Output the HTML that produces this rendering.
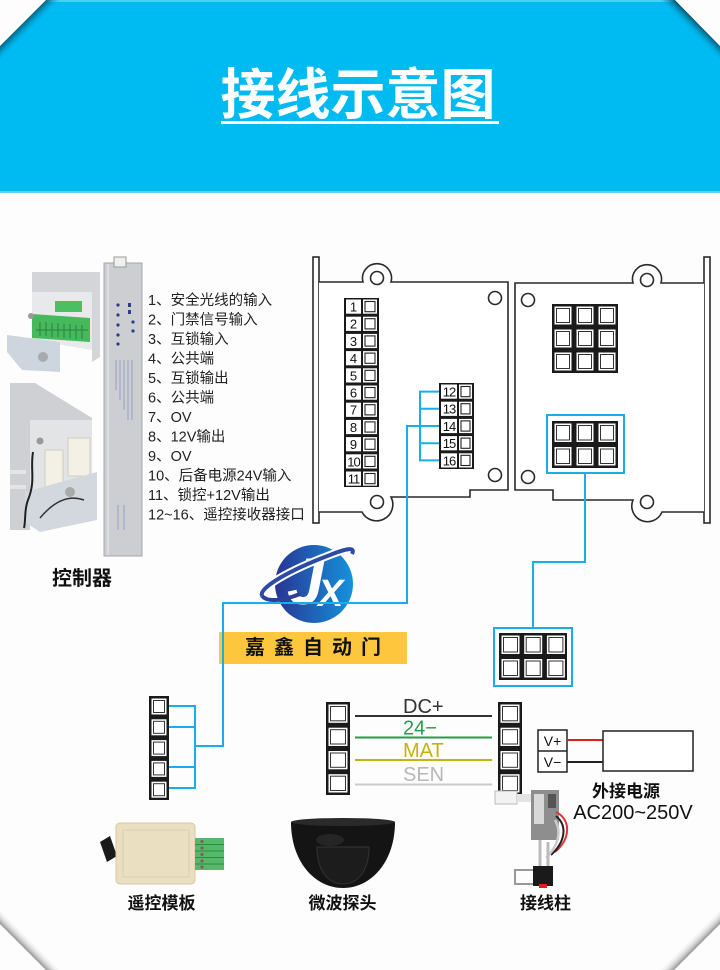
<!DOCTYPE html>
<html><head><meta charset="utf-8">
<style>
html,body{margin:0;padding:0;background:#fdfdfd;}
svg{display:block;}
text{font-family:"Liberation Sans","Noto Sans CJK SC",sans-serif;}
</style></head>
<body>
<svg width="720" height="970" viewBox="0 0 720 970" xmlns="http://www.w3.org/2000/svg">
<defs>
<linearGradient id="lg" x1="0" y1="0" x2="1" y2="0">
<stop offset="0" stop-color="#283594"/><stop offset="1" stop-color="#1592db"/>
</linearGradient>
<linearGradient id="stl" gradientUnits="userSpaceOnUse" x1="23" y1="23" x2="31" y2="31">
<stop offset="0" stop-color="#05506b" stop-opacity=".9"/><stop offset="1" stop-color="#00baf2" stop-opacity="0"/>
</linearGradient>
<linearGradient id="str" gradientUnits="userSpaceOnUse" x1="697" y1="23" x2="689" y2="31">
<stop offset="0" stop-color="#05506b" stop-opacity=".9"/><stop offset="1" stop-color="#00baf2" stop-opacity="0"/>
</linearGradient>
<linearGradient id="sbl" gradientUnits="userSpaceOnUse" x1="23" y1="947" x2="31" y2="939">
<stop offset="0" stop-color="#777" stop-opacity=".8"/><stop offset="1" stop-color="#fdfdfd" stop-opacity="0"/>
</linearGradient>
<linearGradient id="sbr" gradientUnits="userSpaceOnUse" x1="697" y1="947" x2="689" y2="939">
<stop offset="0" stop-color="#777" stop-opacity=".8"/><stop offset="1" stop-color="#fdfdfd" stop-opacity="0"/>
</linearGradient>
</defs>
<rect width="720" height="970" fill="#fdfdfd"/>

<!-- Header -->
<polygon points="46,0 675,0 720,46 720,192 0,192 0,46" fill="#00baf2"/>
<rect x="46" y="0" width="629" height="2" fill="#4fcdf5"/>
<polygon points="46,0 60,0 0,60 0,46" fill="url(#stl)"/>
<polygon points="675,0 661,0 720,60 720,46" fill="url(#str)"/>
<polygon points="0,0 46,0 0,46" fill="#fdfdfd"/>
<polygon points="720,0 675,0 720,46" fill="#fdfdfd"/>
<rect x="0" y="191" width="720" height="2" fill="#5fd0f5"/>
<text x="358" y="114" font-size="55" font-weight="bold" fill="#ffffff" text-anchor="middle">接线示意图</text>
<rect x="221" y="121" width="278" height="3" fill="#ffffff"/>

<!-- bottom corner shadows -->
<polygon points="0,924 46,970 62,970 0,908" fill="url(#sbl)"/>
<polygon points="720,924 674,970 658,970 720,908" fill="url(#sbr)"/>
<polygon points="0,925 0,970 45,970" fill="#fdfdfd"/>
<polygon points="720,925 720,970 675,970" fill="#fdfdfd"/>

<!-- Controller photos -->
<g>
<polygon points="32,272 100,272 100,357 92,362 92,292 32,292" fill="#d3d5d8"/>
<polygon points="32,292 92,292 92,350 32,340" fill="#e8e9eb"/>
<rect x="55" y="301" width="27" height="11" fill="#4cbf63"/>
<polygon points="32,314 90,318 90,342 32,338" fill="#46b95d"/>
<path d="M36,330 H88 M40,322 V336 M46,322 V336 M52,323 V337 M58,323 V337 M64,324 V338 M70,324 V338 M76,325 V339 M82,325 V339" stroke="#2f8a43" stroke-width="1.2"/>
<polygon points="7,335 60,342 60,372 22,370 7,352" fill="#cdd5de"/>
<circle cx="43" cy="357" r="5" fill="#a7abb1"/>
<circle cx="31" cy="316" r="3" fill="#999"/>

<polygon points="10,383 35,383 92,418 92,440 30,440 30,530 10,530" fill="#cfd0d3"/>
<polygon points="30,420 92,420 92,500 30,510" fill="#e3e4e6"/>
<rect x="45" y="450" width="18" height="40" fill="#f3f1e6" stroke="#cfcdc0"/>
<rect x="68" y="438" width="22" height="38" fill="#f3f1e6" stroke="#cfcdc0"/>
<polygon points="25,492 97,472 97,520 40,532 25,522" fill="#d3d8de"/>
<path d="M33,452 C30,470 36,480 28,500 C24,510 26,520 24,528" stroke="#222" stroke-width="2" fill="none"/>
<path d="M40,518 C55,500 70,495 84,500" stroke="#333" stroke-width="1.5" fill="none"/>
<circle cx="70" cy="492" r="5" fill="#aaa"/>
<circle cx="40" cy="441" r="3.5" fill="#999"/>
<rect x="10" y="470" width="16" height="4" fill="#e4e4e6"/>
<rect x="10" y="485" width="16" height="4" fill="#e4e4e6"/>

<rect x="104" y="263" width="38" height="293" fill="#cdced2" stroke="#a6a7ab"/>
<line x1="108" y1="264" x2="108" y2="555" stroke="#e4e4e6" stroke-width="1.5"/>
<rect x="114" y="257" width="12" height="10" fill="#f0f0f0" stroke="#999"/>
<g fill="#2a3d8c">
<circle cx="118" cy="305" r="1.6"/><circle cx="118" cy="315" r="1.6"/><circle cx="118" cy="325" r="1.6"/><circle cx="118" cy="335" r="1.6"/><circle cx="118" cy="344" r="1.6"/>
<rect x="128" y="303" width="3" height="4"/><rect x="128" y="310" width="3" height="4"/><circle cx="133" cy="322" r="1.6"/><circle cx="133" cy="331" r="1.6"/>
</g>
<g stroke="#8b93c0" stroke-width=".8">
<line x1="116" y1="360" x2="116" y2="390"/><line x1="120" y1="360" x2="120" y2="400"/><line x1="124" y1="360" x2="124" y2="410"/><line x1="128" y1="360" x2="128" y2="420"/><line x1="132" y1="360" x2="132" y2="420"/>
<line x1="118" y1="505" x2="118" y2="530"/><line x1="124" y1="505" x2="124" y2="530"/>
</g>
</g>

<!-- Controller list -->
<g font-size="14.5" fill="#222">
<text x="148" y="305">1、安全光线的输入</text>
<text x="148" y="324.5">2、门禁信号输入</text>
<text x="148" y="344">3、互锁输入</text>
<text x="148" y="363.5">4、公共端</text>
<text x="148" y="383">5、互锁输出</text>
<text x="148" y="402.5">6、公共端</text>
<text x="148" y="422">7、OV</text>
<text x="148" y="441.5">8、12V输出</text>
<text x="148" y="461">9、OV</text>
<text x="148" y="480.5">10、后备电源24V输入</text>
<text x="148" y="500">11、锁控+12V输出</text>
<text x="148" y="519.5">12~16、遥控接收器接口</text>
</g>
<text x="52" y="585" font-size="20" font-weight="bold" fill="#111">控制器</text>

<!-- Plates -->
<g stroke="#2a2a2a" stroke-width="1.6" fill="#fff">
<rect x="313" y="257" width="6" height="266"/>
<rect x="704" y="257" width="6" height="266"/>
<path d="M319,282 H363 A14.5,14.5 0 1 1 391,282 H508 V490 H470 V497 H391 A15,15 0 0 1 362,512 H319"/>
<path d="M704,283 H661 A14.5,14.5 0 1 0 633,283 H515 V490 H553 V500 H633 A15,15 0 0 0 662,512 H704"/>
<circle cx="377" cy="278" r="6.5"/><circle cx="377" cy="502" r="6.5"/>
<circle cx="647" cy="280" r="6.5"/><circle cx="647" cy="502" r="6.5"/>
<circle cx="495" cy="298" r="6.5"/><circle cx="495" cy="475" r="6.5"/>
<circle cx="528" cy="300" r="6.5"/><circle cx="528" cy="477" r="6.5"/>
</g>

<!-- Strip 1-11 -->
<rect x="344" y="298" width="35" height="189" fill="#1a1a1a"/>
<g fill="#fff">
<rect x="346" y="299.5" width="15" height="14.2"/><rect x="346" y="316.7" width="15" height="14.2"/><rect x="346" y="333.9" width="15" height="14.2"/><rect x="346" y="351.1" width="15" height="14.2"/><rect x="346" y="368.3" width="15" height="14.2"/><rect x="346" y="385.5" width="15" height="14.2"/><rect x="346" y="402.7" width="15" height="14.2"/><rect x="346" y="419.9" width="15" height="14.2"/><rect x="346" y="437.1" width="15" height="14.2"/><rect x="346" y="454.3" width="15" height="14.2"/><rect x="346" y="471.5" width="15" height="14.2"/>
<rect x="363" y="299.5" width="14" height="14.2"/><rect x="363" y="316.7" width="14" height="14.2"/><rect x="363" y="333.9" width="14" height="14.2"/><rect x="363" y="351.1" width="14" height="14.2"/><rect x="363" y="368.3" width="14" height="14.2"/><rect x="363" y="385.5" width="14" height="14.2"/><rect x="363" y="402.7" width="14" height="14.2"/><rect x="363" y="419.9" width="14" height="14.2"/><rect x="363" y="437.1" width="14" height="14.2"/><rect x="363" y="454.3" width="14" height="14.2"/><rect x="363" y="471.5" width="14" height="14.2"/>
</g>
<g fill="none" stroke="#222" stroke-width="1.1">
<rect x="365" y="301.5" width="10" height="10.2"/><rect x="365" y="318.7" width="10" height="10.2"/><rect x="365" y="335.9" width="10" height="10.2"/><rect x="365" y="353.1" width="10" height="10.2"/><rect x="365" y="370.3" width="10" height="10.2"/><rect x="365" y="387.5" width="10" height="10.2"/><rect x="365" y="404.7" width="10" height="10.2"/><rect x="365" y="421.9" width="10" height="10.2"/><rect x="365" y="439.1" width="10" height="10.2"/><rect x="365" y="456.3" width="10" height="10.2"/><rect x="365" y="473.5" width="10" height="10.2"/>
</g>
<g font-size="13" fill="#111" text-anchor="middle">
<text x="353.5" y="311.5">1</text><text x="353.5" y="328.7">2</text><text x="353.5" y="345.9">3</text><text x="353.5" y="363.1">4</text><text x="353.5" y="380.3">5</text><text x="353.5" y="397.5">6</text><text x="353.5" y="414.7">7</text><text x="353.5" y="431.9">8</text><text x="353.5" y="449.1">9</text><text x="353.5" y="466.3" letter-spacing="-1">10</text><text x="353.5" y="483.5" letter-spacing="-1">11</text>
</g>

<!-- Strip 12-16 -->
<rect x="439" y="383" width="35" height="86" fill="#1a1a1a"/>
<g fill="#fff">
<rect x="441" y="384.5" width="16" height="14.2"/><rect x="441" y="401.7" width="16" height="14.2"/><rect x="441" y="418.9" width="16" height="14.2"/><rect x="441" y="436.1" width="16" height="14.2"/><rect x="441" y="453.3" width="16" height="14.2"/>
<rect x="459" y="384.5" width="13" height="14.2"/><rect x="459" y="401.7" width="13" height="14.2"/><rect x="459" y="418.9" width="13" height="14.2"/><rect x="459" y="436.1" width="13" height="14.2"/><rect x="459" y="453.3" width="13" height="14.2"/>
</g>
<g fill="none" stroke="#222" stroke-width="1.1">
<rect x="461" y="386.5" width="9" height="10.2"/><rect x="461" y="403.7" width="9" height="10.2"/><rect x="461" y="420.9" width="9" height="10.2"/><rect x="461" y="438.1" width="9" height="10.2"/><rect x="461" y="455.3" width="9" height="10.2"/>
</g>
<g font-size="13" fill="#111" text-anchor="middle" letter-spacing="-1">
<text x="449" y="396.5">12</text><text x="449" y="413.7">13</text><text x="449" y="430.9">14</text><text x="449" y="448.1">15</text><text x="449" y="465.3">16</text>
</g>

<!-- 3x3 grid -->
<rect x="552" y="304" width="66" height="69" fill="#1a1a1a"/>
<g fill="#fff">
<rect x="554.5" y="306.5" width="17" height="18"/><rect x="576.5" y="306.5" width="17" height="18"/><rect x="598.5" y="306.5" width="17" height="18"/>
<rect x="554.5" y="329.5" width="17" height="18"/><rect x="576.5" y="329.5" width="17" height="18"/><rect x="598.5" y="329.5" width="17" height="18"/>
<rect x="554.5" y="352.5" width="17" height="18"/><rect x="576.5" y="352.5" width="17" height="18"/><rect x="598.5" y="352.5" width="17" height="18"/>
</g>
<g fill="none" stroke="#333" stroke-width="1">
<rect x="556.5" y="308.5" width="13" height="14"/><rect x="578.5" y="308.5" width="13" height="14"/><rect x="600.5" y="308.5" width="13" height="14"/>
<rect x="556.5" y="331.5" width="13" height="14"/><rect x="578.5" y="331.5" width="13" height="14"/><rect x="600.5" y="331.5" width="13" height="14"/>
<rect x="556.5" y="354.5" width="13" height="14"/><rect x="578.5" y="354.5" width="13" height="14"/><rect x="600.5" y="354.5" width="13" height="14"/>
</g>

<!-- 2x3 grid right plate -->
<rect x="547" y="415" width="77" height="58" fill="none" stroke="#19aeea" stroke-width="2"/>
<rect x="552" y="421" width="66" height="47" fill="#1a1a1a"/>
<g fill="#fff">
<rect x="554.5" y="423.5" width="17" height="18.5"/><rect x="576.5" y="423.5" width="17" height="18.5"/><rect x="598.5" y="423.5" width="17" height="18.5"/>
<rect x="554.5" y="447" width="17" height="18.5"/><rect x="576.5" y="447" width="17" height="18.5"/><rect x="598.5" y="447" width="17" height="18.5"/>
</g>
<g fill="none" stroke="#333" stroke-width="1">
<rect x="556.5" y="425.5" width="13" height="14.5"/><rect x="578.5" y="425.5" width="13" height="14.5"/><rect x="600.5" y="425.5" width="13" height="14.5"/>
<rect x="556.5" y="449" width="13" height="14.5"/><rect x="578.5" y="449" width="13" height="14.5"/><rect x="600.5" y="449" width="13" height="14.5"/>
</g>

<!-- Logo -->
<g>
<circle cx="314" cy="584" r="39" fill="url(#lg)"/>
<text x="287" y="604" font-size="66" font-weight="bold" font-style="italic" fill="#fff">J</text>
<text x="318" y="606" font-size="38" font-weight="bold" font-style="italic" fill="#fff">X</text>
<path d="M262,596 C258,588 290,570 330,555 C345,549 356,546 352,554" stroke="#fff" stroke-width="8" fill="none"/>
<path d="M262,596 C258,588 290,570 330,555 C345,549 356,546 352,554" stroke="#2d4ba6" stroke-width="4" fill="none"/>
<path d="M262,596 C268,603 285,600 300,594" stroke="#2d3f98" stroke-width="4" fill="none"/>
</g>

<!-- Banner -->
<rect x="219" y="632" width="188" height="32" fill="#fcc73d"/>
<text x="245" y="654" font-size="20" font-weight="bold" fill="#111" letter-spacing="9">嘉鑫自动门</text>

<!-- Blue lines -->
<g stroke="#19aeea" stroke-width="2" fill="none">
<path d="M439,391.6 H420 V460.4 H439 M420,408.8 H439 M420,443.2 H439"/>
<path d="M439,426 H407 V603 H223 V746 H195"/>
<path d="M169,706 H195 V788 H169 M169,727 H195 M169,767 H195"/>
<path d="M585,473 V562 H533 V628"/>
<rect x="494" y="628" width="78" height="58"/>
</g>

<!-- 6 box -->
<rect x="499" y="633" width="68" height="47" fill="#1a1a1a"/>
<g fill="#fff">
<rect x="501.5" y="635.5" width="18" height="18.5"/><rect x="524.2" y="635.5" width="18" height="18.5"/><rect x="546.9" y="635.5" width="18" height="18.5"/>
<rect x="501.5" y="659" width="18" height="18.5"/><rect x="524.2" y="659" width="18" height="18.5"/><rect x="546.9" y="659" width="18" height="18.5"/>
</g>
<g fill="none" stroke="#333" stroke-width="1">
<rect x="503.5" y="637.5" width="14" height="14.5"/><rect x="526.2" y="637.5" width="14" height="14.5"/><rect x="548.9" y="637.5" width="14" height="14.5"/>
<rect x="503.5" y="661" width="14" height="14.5"/><rect x="526.2" y="661" width="14" height="14.5"/><rect x="548.9" y="661" width="14" height="14.5"/>
</g>

<!-- Left 5-strip -->
<rect x="149" y="696" width="20" height="104" fill="#1a1a1a"/>
<g fill="#fff">
<rect x="151.5" y="698.5" width="15" height="16"/><rect x="151.5" y="719.3" width="15" height="16"/><rect x="151.5" y="740.1" width="15" height="16"/><rect x="151.5" y="760.9" width="15" height="16"/><rect x="151.5" y="781.7" width="15" height="16"/>
</g>
<g fill="none" stroke="#333" stroke-width="1">
<rect x="153.5" y="700.5" width="11" height="12"/><rect x="153.5" y="721.3" width="11" height="12"/><rect x="153.5" y="742.1" width="11" height="12"/><rect x="153.5" y="762.9" width="11" height="12"/><rect x="153.5" y="783.7" width="11" height="12"/>
</g>

<!-- 4-strips -->
<rect x="326" y="702" width="24" height="93" fill="#1a1a1a"/>
<rect x="498" y="702" width="24" height="93" fill="#1a1a1a"/>
<g fill="#fff">
<rect x="328.5" y="704.5" width="19" height="18.3"/><rect x="328.5" y="727.7" width="19" height="18.3"/><rect x="328.5" y="751" width="19" height="18.3"/><rect x="328.5" y="774.2" width="19" height="18.3"/>
<rect x="500.5" y="704.5" width="19" height="18.3"/><rect x="500.5" y="727.7" width="19" height="18.3"/><rect x="500.5" y="751" width="19" height="18.3"/><rect x="500.5" y="774.2" width="19" height="18.3"/>
</g>
<g fill="none" stroke="#333" stroke-width="1">
<rect x="330.5" y="706.5" width="15" height="14.3"/><rect x="330.5" y="729.7" width="15" height="14.3"/><rect x="330.5" y="753" width="15" height="14.3"/><rect x="330.5" y="776.2" width="15" height="14.3"/>
<rect x="502.5" y="706.5" width="15" height="14.3"/><rect x="502.5" y="729.7" width="15" height="14.3"/><rect x="502.5" y="753" width="15" height="14.3"/><rect x="502.5" y="776.2" width="15" height="14.3"/>
</g>

<!-- Wires -->
<line x1="355" y1="716" x2="492" y2="716" stroke="#333" stroke-width="2"/>
<line x1="355" y1="737.5" x2="492" y2="737.5" stroke="#2b9a48" stroke-width="2"/>
<line x1="355" y1="760" x2="492" y2="760" stroke="#c3b311" stroke-width="2"/>
<line x1="355" y1="784.5" x2="492" y2="784.5" stroke="#cacaca" stroke-width="2"/>
<g font-size="20">
<text x="403" y="713" fill="#333">DC+</text>
<text x="403" y="734.5" fill="#2b9a48">24−</text>
<text x="403" y="757" fill="#c3b311">MAT</text>
<text x="403" y="781" fill="#b8b8b8">SEN</text>
</g>

<!-- Power -->
<rect x="538" y="730" width="29" height="42" fill="#fff" stroke="#222" stroke-width="1.5"/>
<line x1="538" y1="751" x2="567" y2="751" stroke="#222" stroke-width="1.5"/>
<text x="552.5" y="746" font-size="14" fill="#111" text-anchor="middle">V+</text>
<text x="552.5" y="767" font-size="14" fill="#111" text-anchor="middle">V−</text>
<line x1="567" y1="740" x2="603" y2="740" stroke="#e02020" stroke-width="2"/>
<line x1="567" y1="762" x2="603" y2="762" stroke="#222" stroke-width="2"/>
<rect x="603" y="731" width="90" height="40" fill="#fff" stroke="#222" stroke-width="1.5"/>
<text x="626" y="797" font-size="17" font-weight="bold" fill="#111" text-anchor="middle">外接电源</text>
<text x="633" y="819" font-size="20" fill="#111" text-anchor="middle">AC200~250V</text>

<!-- Remote module -->
<polygon points="100,842 110,836 117,856 107,862" fill="#1a1a1a"/>
<rect x="116" y="823" width="79" height="61" rx="4" fill="#ebdfc2" stroke="#d6c8a3"/>
<rect x="123" y="830" width="66" height="47" fill="none" stroke="#dccfae"/>
<rect x="195" y="838" width="29" height="32" fill="#55b96b"/>
<g stroke="#2f8a43" stroke-width="1"><line x1="195" y1="844.5" x2="224" y2="844.5"/><line x1="195" y1="851" x2="224" y2="851"/><line x1="195" y1="857.5" x2="224" y2="857.5"/><line x1="195" y1="864" x2="224" y2="864"/></g>
<g fill="#8a5a5a"><circle cx="202" cy="841.5" r="1.6"/><circle cx="202" cy="848" r="1.6"/><circle cx="202" cy="854.5" r="1.6"/><circle cx="202" cy="861" r="1.6"/><circle cx="202" cy="867" r="1.6"/></g>
<text x="161.5" y="909" font-size="17" font-weight="bold" fill="#111" text-anchor="middle">遥控模板</text>

<!-- Dome -->
<path d="M291,822 C291,862 315,888 343,888 C371,888 395,862 395,822 Z" fill="#141414"/>
<ellipse cx="343" cy="822" rx="52" ry="4" fill="#2a2a2a"/>
<path d="M317,847 H369 C369,872 357,884 343,884 C329,884 317,872 317,847 Z" fill="#1c1c1c" stroke="#333"/>
<ellipse cx="330" cy="840" rx="14" ry="6" fill="#2c2c2c" opacity=".7"/>
<text x="342.5" y="909" font-size="17" font-weight="bold" fill="#111" text-anchor="middle">微波探头</text>

<!-- Connector -->
<rect x="495" y="791" width="22" height="13" fill="#f2f2f2" stroke="#bbb"/>
<rect x="517" y="794" width="15" height="8" fill="#e4e4e4"/>
<rect x="531" y="790" width="28" height="50" fill="#8e8e8e"/>
<rect x="534" y="794" width="10" height="30" fill="#d8d8d8"/>
<rect x="548" y="794" width="8" height="14" fill="#555"/>
<path d="M556,812 C572,820 570,840 555,852" fill="none" stroke="#d33" stroke-width="2"/>
<path d="M556,816 C568,826 565,842 551,855" fill="none" stroke="#222" stroke-width="2"/>
<path d="M555,820 C562,832 558,846 546,858" fill="none" stroke="#ccc" stroke-width="2.5"/>
<path d="M540,840 V866 M548,842 V866" stroke="#bbb" stroke-width="3"/>
<rect x="515" y="870" width="20" height="14" fill="none" stroke="#999" stroke-width="2"/>
<rect x="533" y="866" width="20" height="20" fill="#1a1a1a"/>
<rect x="539" y="884" width="8" height="4" fill="#e02020"/>
<text x="545.5" y="909" font-size="17" font-weight="bold" fill="#111" text-anchor="middle">接线柱</text>
</svg>
</body></html>
